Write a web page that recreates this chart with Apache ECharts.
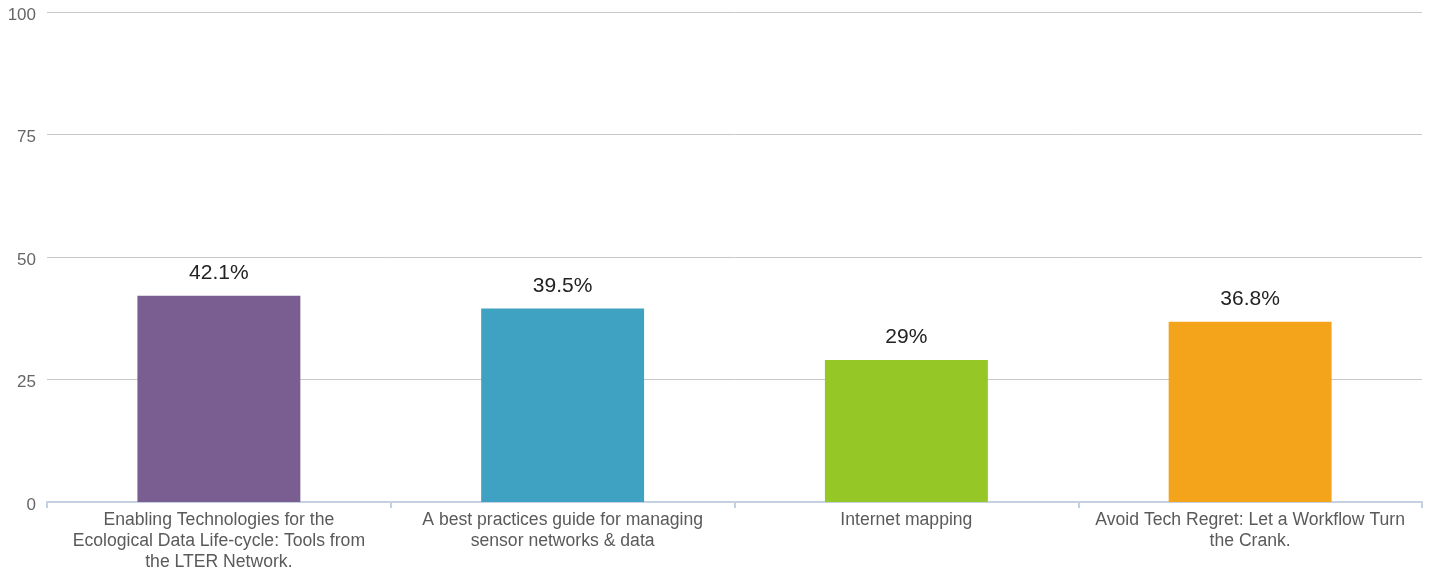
<!DOCTYPE html>
<html><head><meta charset="utf-8">
<script src="https://cdn.jsdelivr.net/npm/echarts@6/dist/echarts.min.js"></script>
<style>html,body{margin:0;padding:0;background:#fff}#c{width:1433px;height:575px}</style>
</head><body><div id="c"></div>
<script>
const categories = [
  "Enabling Technologies for the\nEcological Data Life-cycle: Tools from\nthe LTER Network.",
  "A best practices guide for managing\nsensor networks & data",
  "Internet mapping",
  "Avoid Tech Regret: Let a Workflow Turn\nthe Crank."
];
const values = [42.1, 39.5, 29, 36.8];
const labels = ["42.1%", "39.5%", "29%", "36.8%"];
const colors = ["#7b5e91", "#40a2c2", "#95c727", "#f4a41a"];

const chart = echarts.init(document.getElementById('c'));
chart.setOption({
  animation: false,
  textStyle: { fontFamily: 'Liberation Sans, Arial, sans-serif' },
  grid: { left: 47, right: 11, top: 12, bottom: 73, containLabel: false },
  xAxis: {
    type: 'category', data: categories,
    axisLine: { lineStyle: { color: '#c3d1e2', width: 2 } },
    axisTick: { show: true, length: 6, lineStyle: { color: '#c3d1e2', width: 2 } },
    axisLabel: { color: '#5a5a5a', fontSize: 17.6, lineHeight: 21, margin: 8, interval: 0 }
  },
  yAxis: {
    type: 'value', min: 0, max: 100, interval: 25,
    axisLine: { show: false }, axisTick: { show: false },
    axisLabel: {
      margin: 11, formatter: '{a|{value}}',
      rich: { a: { color: '#666', fontSize: 17, fontFamily: 'Liberation Sans, Arial, sans-serif', padding: [6, 0, 0, 0] } }
    },
    splitLine: { lineStyle: { color: '#c8c8c8', width: 1 } }
  },
  series: [{
    type: 'bar', barWidth: '47.4%',
    data: values.map((v, i) => ({ value: v, itemStyle: { color: colors[i] } })),
    label: {
      show: true, position: 'top', distance: 12, fontSize: 21, color: '#222',
      formatter: p => labels[p.dataIndex]
    }
  }]
});
</script></body></html>
